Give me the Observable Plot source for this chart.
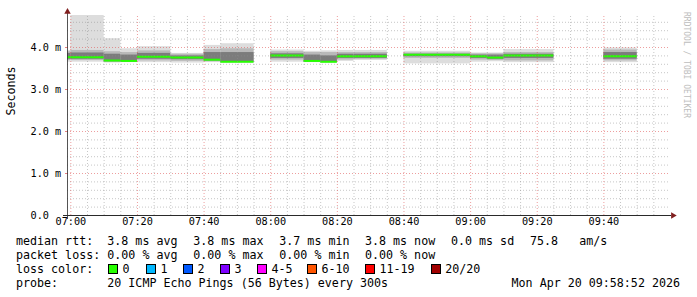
<!DOCTYPE html>
<html><head><meta charset="utf-8">
<script src="https://cdn.jsdelivr.net/npm/d3@7"></script>
<script src="https://cdn.jsdelivr.net/npm/@observablehq/plot@0.6"></script>
<style>
html,body{margin:0;padding:0;background:#fff;}
#wrap{position:relative;width:697px;height:297px;overflow:hidden;font-family:"DejaVu Sans Mono",monospace;color:#000;background:#fff;}
#chart svg{display:block;}
.lg{position:absolute;font-size:11.66px;line-height:14px;white-space:pre;}
.sq{position:absolute;width:10px;height:10px;box-sizing:border-box;border:1px solid #000;}
#wm{position:absolute;left:682px;top:12px;writing-mode:vertical-rl;font-size:8px;line-height:9px;color:#bdbdbd;white-space:pre;}
</style></head><body><div id="wrap"><div id="chart"></div><div id="legend"></div><div id="wm"></div></div>
<script>
// ---- data (minutes after 07:00, values in ms) ----
const segStart = [-1, 0, 10, 15, 20, 30, 40, 45, 60, 70, 75, 80, 85, 100, 120, 125, 130, 160];
const segEnd   = [0, 10, 15, 20, 30, 40, 45, 55, 70, 75, 80, 85, 95, 120, 125, 130, 145, 170];
const rttMax   = [3.93, 4.85, 4.21, 3.97, 4.02, 3.86, 4.05, 4.09, 3.94, 3.91, 3.92, 3.93, 3.93, 3.91, 3.87, 3.87, 3.95, 3.99];
const rttP90   = [3.90, 3.93, 3.90, 3.88, 3.92, 3.84, 3.95, 3.97, 3.90, 3.88, 3.88, 3.88, 3.88, 3.87, 3.85, 3.85, 3.88, 3.94];
const rttP75   = [3.86, 3.87, 3.84, 3.82, 3.86, 3.80, 3.88, 3.88, 3.85, 3.82, 3.80, 3.84, 3.84, 3.84, 3.82, 3.82, 3.84, 3.88];
const rttMedian= [3.77, 3.77, 3.69, 3.68, 3.78, 3.76, 3.71, 3.66, 3.81, 3.68, 3.66, 3.79, 3.79, 3.83, 3.79, 3.76, 3.81, 3.79];
const rttP25   = [3.72, 3.72, 3.66, 3.66, 3.72, 3.71, 3.68, 3.65, 3.74, 3.66, 3.65, 3.74, 3.74, 3.78, 3.74, 3.72, 3.74, 3.72];
const rttP10   = [3.69, 3.69, 3.65, 3.65, 3.68, 3.67, 3.66, 3.64, 3.70, 3.65, 3.64, 3.70, 3.72, 3.74, 3.70, 3.69, 3.68, 3.68];
const rttMin   = [3.65, 3.65, 3.63, 3.64, 3.64, 3.63, 3.64, 3.63, 3.65, 3.64, 3.63, 3.67, 3.69, 3.61, 3.65, 3.66, 3.64, 3.64];
const segLoss  = [0, 0, 0, 0, 0, 0, 0, 0, 0, 0, 0, 0, 0, 0, 0, 0, 0, 0];

const xTickMinutes = [0, 20, 40, 60, 80, 100, 120, 140, 160];
const xTickLabels  = ["07:00", "07:20", "07:40", "08:00", "08:20", "08:40", "09:00", "09:20", "09:40"];
const yTicks       = [0, 1, 2, 3, 4];
const yTickLabels  = ["0.0", "1.0 m", "2.0 m", "3.0 m", "4.0 m"];

const lossLabels = ["0", "1", "2", "3", "4-5", "6-10", "11-19", "20/20"];
const lossColors = ["#26ff00", "#00b8ff", "#0059ff", "#7e00ff", "#ff00ff", "#ff5500", "#ff0000", "#a10000"];
const rttStats  = ["3.8 ms avg", "3.8 ms max", "3.7 ms min", "3.8 ms now", "0.0 ms sd", "75.8", "am/s"];
const lossStats = ["0.00 % avg", "0.00 % max", "0.00 % min", "0.00 % now"];
const probeText = "20 ICMP Echo Pings (56 Bytes) every 300s";
const dateText  = "Mon Apr 20 09:58:52 2026";
const watermark = "RRDTOOL / TOBI OETIKER";

// ---- layout ----
const W = 697, H = 232, mL = 67, mR = 27, mT = 15, mB = 17;
const xDomain = [-1, 180];
const pxPerMin = (W - mL - mR) / (xDomain[1] - xDomain[0]);
const pxPerMs = 42;
const yTop = (H - mT - mB) / pxPerMs;

const segs = segStart.map((s, i) => ({
  start: s, end: segEnd[i], max: rttMax[i], p90: rttP90[i], p75: rttP75[i],
  med: rttMedian[i], p25: rttP25[i], p10: rttP10[i], min: rttMin[i],
  color: segLoss[i] === 0 ? lossColors[0] : lossColors[6]
}));

const minorX = d3.range(0, 181, 5).filter(m => m % 20 !== 0);
const minorY = d3.range(1, 24).map(i => +(i * 0.2).toFixed(1)).filter(v => Math.abs(v - Math.round(v)) > 1e-6 && v < yTop);
const majorY = yTicks.filter(v => v > 0);

const gridMinor = {stroke: "rgb(143,143,143)", strokeOpacity: 0.5, strokeDasharray: "1,2"};
const gridMajor = {stroke: "rgb(222,79,79)", strokeOpacity: 0.55, strokeDasharray: "1,2"};
const axisColor = "#2a2a2a";
const arrowColor = "rgb(128,31,31)";

const chart = Plot.plot({
  width: W, height: H,
  marginLeft: mL, marginRight: mR, marginTop: mT, marginBottom: mB,
  x: {domain: xDomain, axis: null},
  y: {domain: [0, yTop], axis: null},
  style: {fontFamily: "'DejaVu Sans Mono', monospace", fontSize: "10.2px", background: "#fff", color: "#000", overflow: "visible"},
  marks: [
    Plot.rect(segs, {x1: "start", x2: "end", y1: "min", y2: "max", fill: "#dddddd", clip: true}),
    Plot.rect(segs, {x1: "start", x2: "end", y1: "p10", y2: "p90", fill: "#b9b9b9"}),
    Plot.rect(segs, {x1: "start", x2: "end", y1: "p25", y2: "p75", fill: "#7c7c7c"}),
    Plot.ruleY(segs, {y: "med", x1: "start", x2: "end", stroke: "color", strokeWidth: 2}),
    // grid
    Plot.ruleX(minorX, {y1: 0, y2: yTop, ...gridMinor}),
    Plot.ruleY(minorY, {x1: xDomain[0], x2: xDomain[1], ...gridMinor}),
    Plot.ruleX(xTickMinutes, {y1: 0, y2: yTop, ...gridMajor}),
    Plot.ruleY(majorY, {x1: xDomain[0], x2: xDomain[1], ...gridMajor}),
    Plot.ruleY(majorY, {x1: xDomain[0] - 2 / pxPerMin, x2: xDomain[0], stroke: "rgb(222,79,79)", strokeOpacity: 0.7}),
    // axes
    Plot.ruleY([0], {x1: xDomain[0] - 4 / pxPerMin, x2: xDomain[1] + 1 / pxPerMin, stroke: axisColor}),
    Plot.ruleX([xDomain[0]], {y1: -4 / pxPerMs, y2: yTop + 2 / pxPerMs, stroke: axisColor, strokeOpacity: 0.8}),
    Plot.dot([0], {x: xDomain[0], y: yTop, dy: -3.7, symbol: "triangle", r: 2.4, fill: arrowColor, stroke: "none"}),
    Plot.dot([0], {x: xDomain[1], y: 0, dx: 2.5, symbol: "triangle", r: 2.4, rotate: 90, fill: arrowColor, stroke: "none"}),
    // tick labels
    Plot.text(yTicks, {y: d => d, text: (d, i) => yTickLabels[i], frameAnchor: "left", dx: -37, textAnchor: "start", fontSize: 10.2}),
    Plot.text(xTickMinutes, {x: d => d, text: (d, i) => xTickLabels[i], frameAnchor: "bottom", dy: 9.5, fontSize: 10.2}),
    Plot.text(["Seconds"], {text: d => d, frameAnchor: "left", dx: -56, rotate: -90, fontSize: 11.66})
  ]
});
document.getElementById("chart").appendChild(chart);
document.getElementById("wm").textContent = watermark;

// ---- legend (HTML below the svg) ----
const legend = document.getElementById("legend");
function txt(x, baseline, s, right) {
  const d = document.createElement("div");
  d.className = "lg";
  d.textContent = s;
  d.style.top = (baseline - 11.03) + "px";
  if (right) d.style.right = (W - x) + "px"; else d.style.left = x + "px";
  legend.appendChild(d);
}
const colX = [107.3, 193.3, 279.3, 365, 451, 530, 579.3];
txt(16, 245, "median rtt:");
rttStats.forEach((s, i) => txt(colX[i], 245, s));
txt(16, 259.3, "packet loss:");
lossStats.forEach((s, i) => txt(colX[i], 259.3, s));
txt(16, 273.3, "loss color:");
const sqX = [108, 146, 183, 220, 257, 307, 365, 430.7];
lossLabels.forEach((s, i) => {
  const q = document.createElement("div");
  q.className = "sq";
  q.style.left = sqX[i] + "px";
  q.style.top = "264.3px";
  q.style.background = lossColors[i];
  legend.appendChild(q);
  txt(sqX[i] + 14.5, 273.3, s);
});
txt(16, 287.3, "probe:");
txt(107.3, 287.3, probeText);
txt(680, 287.3, dateText, true);
</script></body></html>
